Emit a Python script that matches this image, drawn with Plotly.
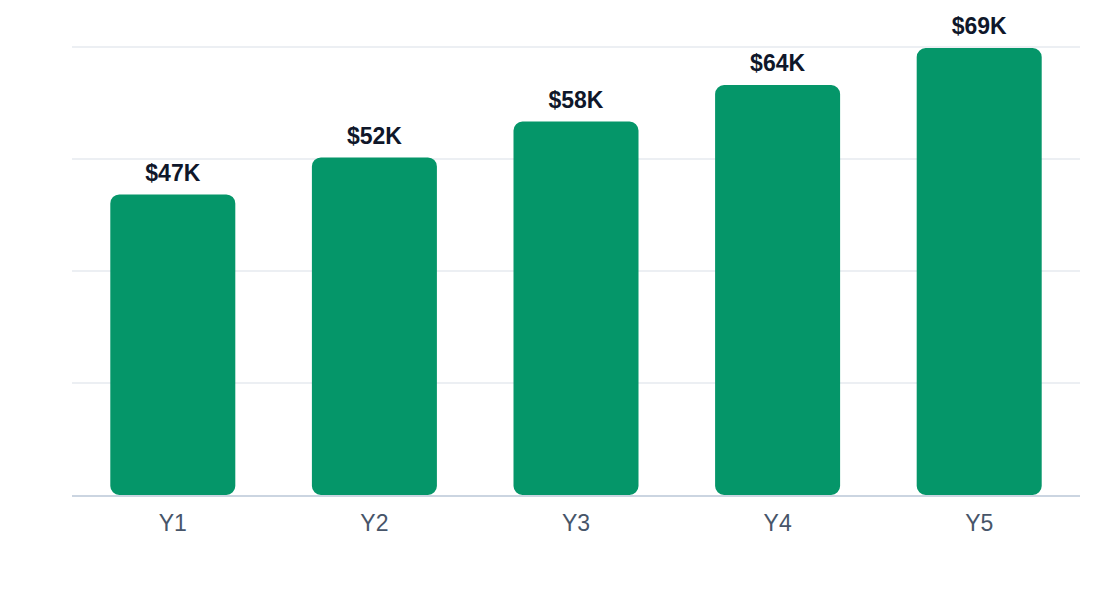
import plotly.graph_objects as go

categories = ["Y1", "Y2", "Y3", "Y4", "Y5"]
values = [47.0, 52.8, 58.4, 64.1, 69.9]  # thousands of dollars
value_labels = ["$47K", "$52K", "$58K", "$64K", "$69K"]
bases = [0, 0, 0, 0, 0]

GREEN = "#059669"
FONT = "Liberation Sans, Arial, sans-serif"

fig = go.Figure()
fig.add_trace(go.Bar(
    x=categories, y=values, base=bases,
    marker=dict(color=GREEN, line=dict(width=0)),
    width=0.62, showlegend=False,
))
fig.add_trace(go.Scatter(
    x=categories, y=values, mode="markers+text", text=value_labels,
    textposition="top center",
    marker=dict(size=11, color="rgba(0,0,0,0)"),
    textfont=dict(family=FONT, size=23, color="#0f172a", weight="bold"),
    cliponaxis=False, hoverinfo="skip", showlegend=False,
))

fig.update_layout(
    width=1120, height=600,
    margin=dict(l=64, r=48, t=33, b=113),
    paper_bgcolor="white", plot_bgcolor="white",
    barmode="overlay", barcornerradius=9,
    font=dict(family=FONT),
    xaxis=dict(
        showline=True, linecolor="#cbd5e1", linewidth=2,
        ticks="", tickfont=dict(size=23, color="#475569"),
        ticklabelstandoff=6,
        showgrid=False, zeroline=False,
    ),
    yaxis=dict(
        range=[0, 71], dtick=17.5, tick0=0,
        showticklabels=False, showgrid=True, gridcolor="#eceff3", gridwidth=1.5,
        zeroline=False, showline=False,
    ),
)

fig.write_html("out.html")
